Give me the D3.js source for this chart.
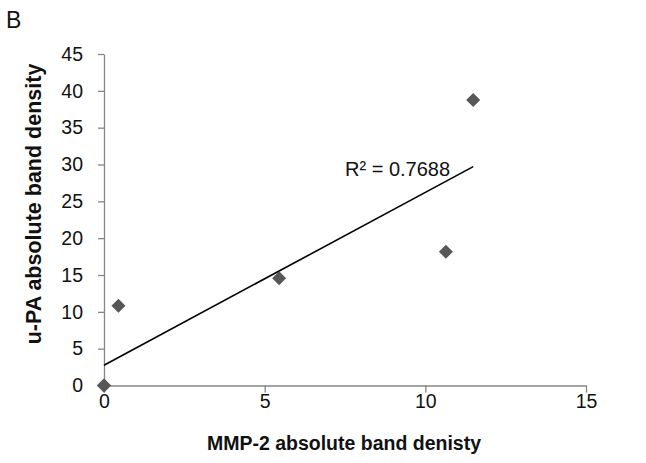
<!DOCTYPE html>
<html>
<head>
<meta charset="utf-8">
<script src="https://cdn.jsdelivr.net/npm/d3@7"></script>
<style>
  body { margin: 0; background: #fff; }
  svg { display: block; font-family: "Liberation Sans", Arial, sans-serif; }
  .axis path, .axis line { stroke: #868686; stroke-width: 1.3; }
  .axis text { fill: #111; font-size: 19.5px; }
  .title { font-weight: bold; fill: #111; }
</style>
</head>
<body>
<svg id="chart" width="646" height="463"></svg>
<script>
// MMP-2 vs u-PA band density (two samples sit at 0,0)
const mmp2 = [0, 0, 0.45, 5.45, 10.64, 11.49];
const upa = [0, 0, 10.83, 14.55, 18.16, 38.75];
const xTicks = [0, 5, 10, 15];
const yTicks = [0, 5, 10, 15, 20, 25, 30, 35, 40, 45];
const r2Label = "R² = 0.7688";

const size = {width: 646, height: 463};
const margin = {left: 104, right: 60, top: 54, bottom: 77.5};

const svg = d3.select("#chart");

const x = d3.scaleLinear().domain([0, 15]).range([margin.left, size.width - margin.right]);
const y = d3.scaleLinear().domain([0, 45]).range([size.height - margin.bottom, margin.top]);

const xAxis = d3.axisBottom(x).tickValues(xTicks).tickSize(7).tickPadding(2).tickSizeOuter(0);
const yAxis = d3.axisLeft(y).tickValues(yTicks).tickSize(6).tickPadding(15).tickSizeOuter(0);

svg.append("g")
    .attr("class", "axis")
    .attr("transform", `translate(0,${y(0)})`)
    .call(xAxis);

svg.append("g")
    .attr("class", "axis")
    .attr("transform", `translate(${x(0)},0)`)
    .call(yAxis);

svg.selectAll(".axis").attr("font-family", null).attr("font-size", null);

// linear trendline (least squares)
const mx = d3.mean(mmp2), my = d3.mean(upa);
const sxy = d3.sum(mmp2, (d, i) => (d - mx) * (upa[i] - my));
const sxx = d3.sum(mmp2, d => (d - mx) * (d - mx));
const slope = sxy / sxx;
const icpt = my - slope * mx;
const xr = d3.extent(mmp2);

svg.append("line")
    .attr("x1", x(xr[0])).attr("y1", y(icpt + slope * xr[0]))
    .attr("x2", x(xr[1])).attr("y2", y(icpt + slope * xr[1]))
    .attr("stroke", "#000")
    .attr("stroke-width", 1.6);

const diamond = d3.symbol().type(d3.symbolDiamond2).size(125);

svg.append("g")
    .selectAll("path")
    .data(mmp2)
    .join("path")
    .attr("transform", (d, i) => `translate(${x(d)},${y(upa[i])})`)
    .attr("d", diamond)
    .attr("fill", "#575757");

svg.append("text")
    .attr("x", 345).attr("y", 176)
    .attr("font-size", 20)
    .attr("fill", "#111")
    .text(r2Label);

svg.append("text")
    .attr("class", "title")
    .attr("font-size", 19.5)
    .attr("x", (x(0) + x(15)) / 2 - 1)
    .attr("y", 450)
    .attr("text-anchor", "middle")
    .text("MMP-2 absolute band denisty");

svg.append("text")
    .attr("class", "title")
    .attr("font-size", 21.5)
    .attr("transform", `translate(41,204) rotate(-90)`)
    .attr("text-anchor", "middle")
    .text("u-PA absolute band density");

svg.append("text")
    .attr("x", 6).attr("y", 28)
    .attr("font-size", 23)
    .attr("fill", "#111")
    .text("B");
</script>
</body>
</html>
